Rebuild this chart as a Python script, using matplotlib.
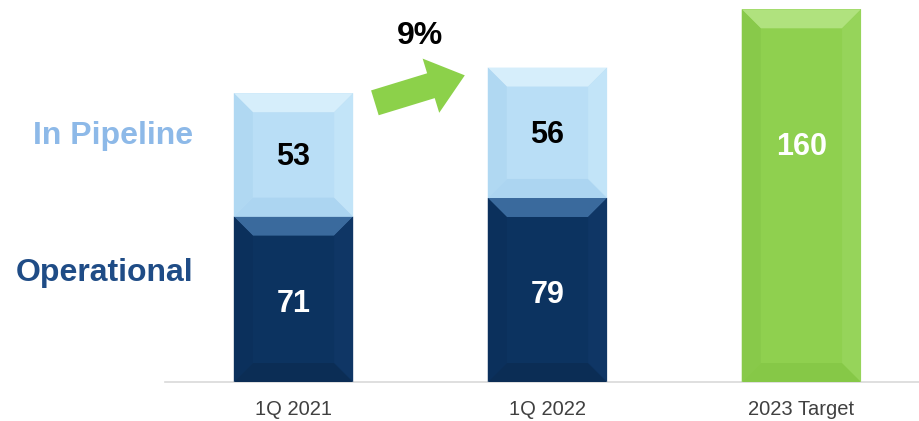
import matplotlib.pyplot as plt
from matplotlib.patches import Polygon

categories = ['1Q 2021', '1Q 2022', '2023 Target']
operational = [71, 79, 0]
pipeline = [53, 56, 0]
target = [0, 0, 160]
growth_label = '9%'

plt.rcParams['font.family'] = ['Liberation Sans', 'DejaVu Sans']

# face, top, bottom, left, right
dark_cols = ('#0c3360', '#3a6a9d', '#0b2d55', '#0b305c', '#0f3665')
light_cols = ('#b9def6', '#d6eefb', '#acd5f1', '#b0d8f2', '#c2e4f8')
green_cols = ('#8fd04f', '#b0e27e', '#86c847', '#88c94a', '#96d45a')

fig = plt.figure(figsize=(9.2, 4.21), dpi=100)
ax = fig.add_axes([165 / 920, 39 / 421, 755 / 920, 382 / 421])
ax.set_xlim(-0.506, 2.467)
ax.set_ylim(0, 164)

x = list(range(len(categories)))
w = 0.47


def bevel(ax, bars, cols, px=19):
    # fake the beveled look by drawing 4 trapezoids on each bar
    trans = ax.transData
    for b in bars:
        h = b.get_height()
        if h <= 0:
            continue
        x0, y0 = b.get_x(), b.get_y()
        x1, y1 = x0 + b.get_width(), y0 + h
        p0 = trans.transform((x0, y0))
        p1 = trans.transform((x1, y1))
        dx = (x1 - x0) * px / (p1[0] - p0[0])
        dy = (y1 - y0) * px / (p1[1] - p0[1])
        b.set_facecolor(cols[0])
        polys = [
            ([(x0, y1), (x1, y1), (x1 - dx, y1 - dy), (x0 + dx, y1 - dy)], cols[1]),
            ([(x0, y0), (x1, y0), (x1 - dx, y0 + dy), (x0 + dx, y0 + dy)], cols[2]),
            ([(x0, y0), (x0 + dx, y0 + dy), (x0 + dx, y1 - dy), (x0, y1)], cols[3]),
            ([(x1, y0), (x1 - dx, y0 + dy), (x1 - dx, y1 - dy), (x1, y1)], cols[4]),
        ]
        for pts, c in polys:
            ax.add_patch(Polygon(pts, closed=True, facecolor=c, edgecolor='none', zorder=3))


b1 = ax.bar(x, operational, w, zorder=2, linewidth=0)
b2 = ax.bar(x, pipeline, w, bottom=operational, zorder=2, linewidth=0)
b3 = ax.bar(x, target, w, zorder=2, linewidth=0)
bevel(ax, b1, dark_cols)
bevel(ax, b2, light_cols)
bevel(ax, b3, green_cols)

for i in x:
    if operational[i]:
        ax.text(i, operational[i] / 2 - 2, str(operational[i]), ha='center', va='center',
                color='white', fontsize=22, fontweight='bold', zorder=5)
    if pipeline[i]:
        ax.text(i, operational[i] + pipeline[i] / 2 - 1, str(pipeline[i]), ha='center', va='center',
                color='black', fontsize=22, fontweight='bold', zorder=5)
    if target[i]:
        ax.text(i, target[i] * 0.63, str(target[i]), ha='center', va='center',
                color='white', fontsize=22, fontweight='bold', zorder=5)

# growth arrow between first two bars
ax.annotate('', xy=(0.685, 132), xytext=(0.31, 119.5),
            arrowprops=dict(arrowstyle='simple,head_width=2.4,head_length=1.5,tail_width=1.1',
                            mutation_scale=17, facecolor='#8cd14a', edgecolor='none'))
ax.text(0.5, 148.5, growth_label, ha='center', va='center', fontsize=23, fontweight='bold')

# series labels on the left
fig.text(113 / 920, 1 - 136 / 421, 'In Pipeline', ha='center', va='center',
         color='#8db9e8', fontsize=23, fontweight='bold')
fig.text(105 / 920, 1 - 273 / 421, 'Operational', ha='center', va='center',
         color='#1f4c86', fontsize=23, fontweight='bold')

ax.set_xticks(x)
ax.set_xticklabels(categories, fontsize=14.5, color='#404040')
ax.tick_params(axis='x', length=0, pad=13)
ax.set_yticks([])
for s in ['top', 'left', 'right']:
    ax.spines[s].set_visible(False)
ax.spines['bottom'].set_color('#d9d9d9')
ax.spines['bottom'].set_linewidth(1.2)

fig.savefig('out.png', dpi=100)
